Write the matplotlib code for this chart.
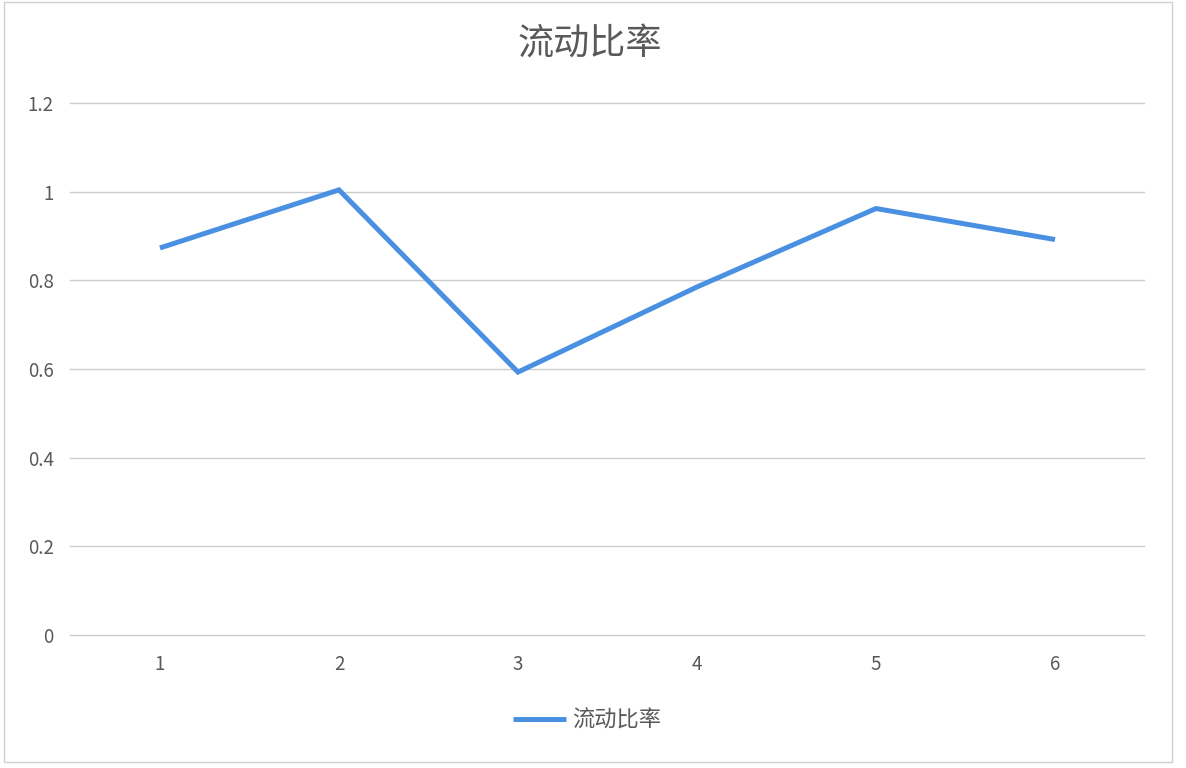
import matplotlib.pyplot as plt
from matplotlib.patches import Rectangle

plt.rcParams['font.family'] = ['Noto Sans CJK SC', 'DejaVu Sans']

periods = ['1', '2', '3', '4', '5', '6']
current_ratio = [0.873, 1.004, 0.593, 0.785, 0.962, 0.892]
y_ticks = [0, 0.2, 0.4, 0.6, 0.8, 1.0, 1.2]
y_labels = ['0', '0.2', '0.4', '0.6', '0.8', '1', '1.2']

fig = plt.figure(figsize=(11.86, 7.68), dpi=100)
fig.patch.set_facecolor('white')
# chart border
fig.patches.append(Rectangle((0.003, 0.008), 0.985, 0.99, transform=fig.transFigure,
                             fill=False, edgecolor='#d0d0d0', linewidth=1))

ax = fig.add_axes([0.0594, 0.1732, 0.9056, 0.6927])
x = list(range(1, len(periods) + 1))
ax.plot(x, current_ratio, color='#4a90e2', linewidth=3.6, label='流动比率',
        solid_capstyle='butt', solid_joinstyle='miter', zorder=3)

ax.set_xlim(0.5, 6.5)
ax.set_ylim(0, 1.2)
ax.set_yticks(y_ticks)
ax.set_yticklabels(y_labels)
ax.set_xticks(x)
ax.set_xticklabels(periods)
for yv in y_ticks:
    ax.axhline(yv, color='#cccccc', linewidth=1, clip_on=False, zorder=1)
for s in ax.spines.values():
    s.set_visible(False)
ax.tick_params(length=0, labelsize=13.5, colors='#595959')
ax.tick_params(axis='y', pad=12)
ax.tick_params(axis='x', pad=14)

fig.text(0.497, 0.942, '流动比率', ha='center', va='center', fontsize=26, color='#595959')
fig.legend(loc='center', bbox_to_anchor=(0.495, 0.062), frameon=False,
           fontsize=16, labelcolor='#595959', handlelength=2.4, handletextpad=0.3)

fig.savefig('out.png', dpi=100)
